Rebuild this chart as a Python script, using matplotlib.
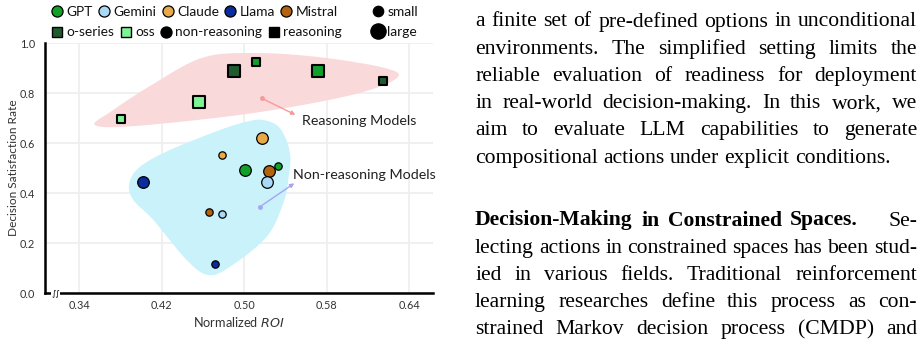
import matplotlib
matplotlib.use("Agg")
import matplotlib.pyplot as plt
from matplotlib.lines import Line2D
import numpy as np

# ---------------- data ----------------
r_roi = [0.3804, 0.4565, 0.4904, 0.5114, 0.5718, 0.6344]
r_dsr = [0.696, 0.763, 0.889, 0.923, 0.889, 0.849]
r_family = ['oss', 'oss', 'o-series', 'GPT', 'GPT', 'o-series']
r_size = ['small', 'large', 'large', 'small', 'large', 'small']

n_roi = [0.4017, 0.4785, 0.5175, 0.5008, 0.5243, 0.5324, 0.5218, 0.4662, 0.4785, 0.4717]
n_dsr = [0.445, 0.553, 0.621, 0.492, 0.488, 0.509, 0.445, 0.325, 0.317, 0.115]
n_family = ['Llama', 'Claude', 'Claude', 'GPT', 'Mistral', 'GPT', 'Gemini', 'Mistral', 'Gemini', 'Llama']
n_size = ['large', 'small', 'large', 'large', 'large', 'small', 'large', 'small', 'small', 'small']

# region outlines (data coordinates)
reason_region_x = [0.3555, 0.3942, 0.5073, 0.6041, 0.6477, 0.6364, 0.5715, 0.5073, 0.4588, 0.4104, 0.3717]
reason_region_y = [0.672, 0.668, 0.719, 0.792, 0.859, 0.900, 0.944, 0.960, 0.940, 0.832, 0.728]
nonreason_region_x = [0.5185, 0.5347, 0.5444, 0.5427, 0.5379, 0.5218, 0.4862, 0.4652, 0.4443, 0.4120,
                      0.3926, 0.3887, 0.3991, 0.4281, 0.4766, 0.5024]
nonreason_region_y = [0.692, 0.659, 0.560, 0.452, 0.359, 0.225, 0.105, 0.072, 0.132, 0.292,
                      0.372, 0.439, 0.505, 0.572, 0.652, 0.685]

xtick_pos = [0.34, 0.42, 0.50, 0.58, 0.66]
xtick_labels = ['0.34', '0.42', '0.50', '0.58', '0.64']
ytick_pos = [0.0, 0.2, 0.4, 0.6, 0.8, 1.0]
ytick_labels = ['0.0', '0.2', '0.4', '0.6', '0.8', '1.0']

family_colors = {
    'GPT': '#12a02a', 'Gemini': '#aad9f7', 'Claude': '#e8aa48', 'Llama': '#0b2c9e',
    'Mistral': '#b5620f', 'o-series': '#1f5b2e', 'oss': '#7ef595',
}
circle_sizes = {'small': 28, 'large': 70}
square_sizes = {'small': 30, 'large': 80}

plt.rcParams['font.family'] = ['Lato', 'DejaVu Sans']

fig = plt.figure(figsize=(9.21, 3.44), dpi=100)
W, H = 921, 344
ax = fig.add_axes([45 / W, (H - 293) / H, (433 - 45) / W, (293 - 43) / H])
ax.set_xlim(0.307, 0.683)
ax.set_ylim(0.0, 1.0)


def smooth_closed(xs, ys, n=30):
    xs = np.asarray(xs); ys = np.asarray(ys)
    m = len(xs)
    outx, outy = [], []
    for i in range(m):
        p0 = np.array([xs[(i - 1) % m], ys[(i - 1) % m]])
        p1 = np.array([xs[i], ys[i]])
        p2 = np.array([xs[(i + 1) % m], ys[(i + 1) % m]])
        p3 = np.array([xs[(i + 2) % m], ys[(i + 2) % m]])
        for t in np.linspace(0, 1, n, endpoint=False):
            t2, t3 = t * t, t * t * t
            pt = 0.5 * ((2 * p1) + (-p0 + p2) * t + (2 * p0 - 5 * p1 + 4 * p2 - p3) * t2
                        + (-p0 + 3 * p1 - 3 * p2 + p3) * t3)
            outx.append(pt[0]); outy.append(pt[1])
    outx.append(outx[0]); outy.append(outy[0])
    return outx, outy


for rx, ry, col in [(reason_region_x, reason_region_y, '#f9d9da'),
                    (nonreason_region_x, nonreason_region_y, '#c9f2fb')]:
    sx, sy = smooth_closed(rx, ry)
    ax.fill(sx, sy, color=col, lw=0, zorder=1)

ax.set_xticks(xtick_pos)
ax.set_xticklabels(xtick_labels)
ax.set_yticks(ytick_pos)
ax.set_yticklabels(ytick_labels)
ax.tick_params(length=0, labelsize=7.8, colors='#333333')
ax.tick_params(axis='y', pad=7)
ax.tick_params(axis='x', pad=5)
ax.grid(True, color='#eeeeee', lw=1.2, zorder=0)
ax.set_axisbelow(True)
for s in ['top', 'right']:
    ax.spines[s].set_visible(False)
for s in ['left', 'bottom']:
    ax.spines[s].set_linewidth(1.8)
    ax.spines[s].set_color('black')

ax.set_xlabel('Normalized $\\mathit{ROI}$', fontsize=9.2, color='#333333', labelpad=3)
ax.set_ylabel('Decision Satisfaction Rate', fontsize=8.6, color='#333333', labelpad=1)

# points
for x, y, fam, sz in zip(n_roi, n_dsr, n_family, n_size):
    ax.scatter([x], [y], s=circle_sizes[sz], marker='o', color=family_colors[fam],
               edgecolor='black', linewidth=0.9, zorder=4)
for x, y, fam, sz in zip(r_roi, r_dsr, r_family, r_size):
    ax.scatter([x], [y], s=square_sizes[sz], marker='s', color=family_colors[fam],
               edgecolor='black', linewidth=1.5, zorder=4)

# annotations
ax.plot([0.5169], [0.779], 'o', color='#f59a9a', ms=2.5, zorder=3)
ax.annotate('', xy=(0.5521, 0.708), xytext=(0.5169, 0.779),
            arrowprops=dict(arrowstyle='-|>', color='#f59a9a', lw=1, mutation_scale=6), zorder=3)
ax.text(0.5557, 0.688, 'Reasoning Models', fontsize=10.3, va='center', ha='left', color='#222222', zorder=5)
ax.plot([0.5153], [0.345], 'o', color='#a5a5f5', ms=2.5, zorder=3)
ax.annotate('', xy=(0.5508, 0.445), xytext=(0.5153, 0.345),
            arrowprops=dict(arrowstyle='-|>', color='#a5a5f5', lw=1, mutation_scale=6), zorder=3)
ax.text(0.5469, 0.472, 'Non-reasoning Models', fontsize=10.3, va='center', ha='left', color='#222222', zorder=5)

# axis break mark
ax.text(0.027, 0.0, '\u222b\u222b', transform=ax.transAxes, fontsize=6, ha='center', va='center',
        family='DejaVu Sans', color='black', zorder=6, clip_on=False,
        bbox=dict(boxstyle='square,pad=0.02', fc='white', ec='none'))

# legends
def circ(c, ms=8):
    return Line2D([], [], marker='o', ls='', markerfacecolor=c, markeredgecolor='black',
                  markeredgewidth=0.9, markersize=ms)

def sq(c, ms=7.5):
    return Line2D([], [], marker='s', ls='', markerfacecolor=c, markeredgecolor='black',
                  markeredgewidth=1.0, markersize=ms)

fams = ['GPT', 'Gemini', 'Claude', 'Llama', 'Mistral']
leg_kw = dict(frameon=False, handlelength=0.75, handletextpad=0.3, columnspacing=0.45,
              borderpad=0, borderaxespad=0, fontsize=9.9, labelcolor='#111111')
l1 = fig.legend([circ(family_colors[f]) for f in fams], fams, ncol=5,
                loc='center left', bbox_to_anchor=(52 / W, 1 - 12 / H), **leg_kw)
l2 = fig.legend([sq(family_colors['o-series']), sq(family_colors['oss']), circ('black'), sq('black')],
                ['o-series', 'oss', 'non-reasoning', 'reasoning'], ncol=4,
                loc='center left', bbox_to_anchor=(52 / W, 1 - 32.5 / H), **leg_kw)
l3 = fig.legend([circ('black', 7.5), circ('black', 11)], ['small', 'large'], ncol=1,
                loc='center left', bbox_to_anchor=(373 / W, 1 - 22 / H),
                labelspacing=0.55, **leg_kw)

# --------------- paper text (justified) ---------------
renderer = fig.canvas.get_renderer()
serif = 'Liberation Serif'
left_px, right_px = 475.0, 917.0
line_w = right_px - left_px
heading_w = 383.0

def word_w(word, size, weight='normal'):
    t = fig.text(0, 0, word, fontsize=size, family=serif, weight=weight)
    bb = t.get_window_extent(renderer)
    t.remove()
    return bb.width

ref_line = 'a finite set of pre-defined options in unconditional'
base = 10.0
ws = [word_w(w, base) for w in ref_line.split(' ')]
sp = word_w('a a', base) - 2 * word_w('a', base)
nat = sum(ws) + sp * (len(ws) - 1)
fs = base * line_w / nat * 0.985

lines = [
    ([('a finite set of pre-defined options in unconditional', 'normal')], 'justify', 26.5),
    ([('environments.  The simplified setting limits the', 'normal')], 'justify', 53.8),
    ([('reliable evaluation of readiness for deployment', 'normal')], 'justify', 81.0),
    ([('in real-world decision-making. In this work, we', 'normal')], 'justify', 108.3),
    ([('aim to evaluate LLM capabilities to generate', 'normal')], 'justify', 135.5),
    ([('compositional actions under explicit conditions.', 'normal')], 'left', 162.7),
    ([('Decision-Making in Constrained Spaces.', 'bold'), ('Se-', 'normal')], 'heading', 225.5),
    ([('lecting actions in constrained spaces has been stud-', 'normal')], 'justify', 252.7),
    ([('ied in various fields. Traditional reinforcement', 'normal')], 'justify', 279.8),
    ([('learning researches define this process as con-', 'normal')], 'justify', 306.9),
    ([('strained Markov decision process (CMDP) and', 'normal')], 'justify', 334.0),
]

sp_fs = word_w('a a', fs) - 2 * word_w('a', fs)
for segs, mode, base_y in lines:
    words = []
    for txt, wt in segs:
        for w in txt.split():
            words.append((w, wt))
    widths = [word_w(w, fs, wt) for w, wt in words]
    n = len(words)
    gaps = [sp_fs] * (n - 1)
    if mode == 'justify':
        g = (line_w - sum(widths)) / (n - 1)
        gaps = [g] * (n - 1)
    elif mode == 'heading':
        nb = n - 1
        g = (heading_w - sum(widths[:nb])) / (nb - 1)
        gaps = [g] * (n - 1)
        gaps[-1] = line_w - sum(widths) - g * (nb - 1)
    x = left_px
    for i, ((w, wt), wd) in enumerate(zip(words, widths)):
        fig.text(x / W, 1 - base_y / H, w, fontsize=fs, family=serif, weight=wt,
                 ha='left', va='baseline', color='black')
        if i < n - 1:
            x += wd + gaps[i]

fig.savefig('out.png', dpi=100)
